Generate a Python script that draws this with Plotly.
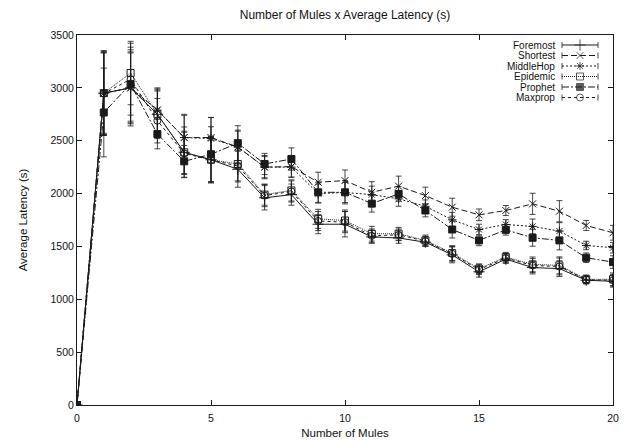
import plotly.graph_objects as go

# ---------------- data ----------------
mules = list(range(21))

foremost = [0, 2950, 3000, 2750, 2390, 2320, 2230, 1960, 1990, 1710, 1710,
            1590, 1580, 1540, 1420, 1260, 1380, 1300, 1290, 1180, 1170]
foremost_err = [0, 400, 330, 230, 240, 220, 170, 115, 100, 90, 120,
                60, 50, 40, 75, 50, 40, 60, 75, 35, 55]

shortest = [0, 2950, 3000, 2790, 2530, 2530, 2440, 2250, 2255, 2107, 2123,
            2012, 2070, 1981, 1871, 1799, 1840, 1903, 1833, 1698, 1629]
shortest_err = [0, 390, 360, 210, 220, 190, 160, 110, 100, 95, 100,
                100, 95, 80, 85, 55, 47, 100, 100, 47, 70]

middlehop = [0, 2950, 3000, 2790, 2530, 2520, 2440, 2250, 2250, 2000, 2010,
             1990, 1950, 1880, 1752, 1660, 1708, 1689, 1645, 1509, 1488]
middlehop_err = [0, 380, 340, 200, 210, 200, 150, 100, 95, 90, 95,
                 80, 70, 60, 70, 50, 45, 70, 80, 40, 50]

epidemic = [0, 2950, 3140, 2750, 2390, 2320, 2280, 1990, 2030, 1761, 1745,
            1620, 1620, 1557, 1437, 1290, 1399, 1330, 1321, 1189, 1189]
epidemic_err = [0, 400, 300, 220, 200, 210, 160, 100, 100, 90, 100,
                70, 60, 50, 70, 45, 45, 70, 80, 40, 60]

prophet = [0, 2767, 3035, 2563, 2305, 2372, 2477, 2280, 2327, 2012, 2012,
           1905, 1997, 1840, 1660, 1557, 1657, 1582, 1557, 1393, 1352]
prophet_err = [0, 420, 350, 140, 150, 260, 165, 100, 105, 95, 110,
               80, 70, 60, 80, 50, 50, 80, 90, 45, 60]

maxprop = [0, 2946, 3082, 2689, 2380, 2318, 2260, 1981, 2020, 1740, 1730,
           1600, 1610, 1550, 1430, 1280, 1390, 1320, 1310, 1185, 1180]
maxprop_err = [0, 390, 340, 210, 200, 210, 150, 105, 100, 90, 100,
               65, 55, 45, 70, 45, 45, 65, 80, 35, 55]

series_names = ["Foremost", "Shortest", "MiddleHop", "Epidemic", "Prophet", "Maxprop"]
series_vals = [foremost, shortest, middlehop, epidemic, prophet, maxprop]
series_errs = [foremost_err, shortest_err, middlehop_err, epidemic_err, prophet_err, maxprop_err]

x_ticks = [0, 5, 10, 15, 20]
y_ticks = [0, 500, 1000, 1500, 2000, 2500, 3000, 3500]

# ---------------- styles ----------------
dashes = ["solid", "6px,3px", "2px,2px", "1px,1px", "7px,2px,2px,2px", "3px,3px"]
symbols = ["cross-thin-open", "x-thin-open", "asterisk-open", "square-open", "square", "circle-open"]
sizes = [8, 7, 7, 7, 7, 7]
INK = "#1a1a1a"
FONT = "Liberation Sans, Arial, sans-serif"

OFF = 8
W, H = 636 - OFF, 441 - OFF
# plot area in window pixels: x 77..613, y 35..405
ML, MR = 77 - OFF, 636 - 613
MT, MB = 35 - OFF, 441 - 405
plot_w = W - ML - MR
plot_h = H - MT - MB

fig = go.Figure()

for name, vals, errs, dash, sym, sz in zip(series_names, series_vals, series_errs,
                                          dashes, symbols, sizes):
    fig.add_trace(go.Scatter(
        x=mules, y=vals, name=name, mode="lines+markers",
        line=dict(color=INK, width=1, dash=dash),
        marker=dict(symbol=sym, size=sz, color=INK,
                    line=dict(color=INK, width=1)),
        error_y=dict(type="data", array=errs, visible=True,
                     color=INK, thickness=0.8, width=3),
        showlegend=False,
    ))

# ---------------- gnuplot-like key (text left, sample right) ----------------
row0 = 1 - 10 / plot_h
row_step = 10.5 / plot_h
sx0 = (562 - 77) / plot_w
sx1 = (598 - 77) / plot_w
sxm = (sx0 + sx1) / 2
tx = (557 - 77) / plot_w
cap = 3.0 / plot_h

for i, (name, dash, sym, sz) in enumerate(zip(series_names, dashes, symbols, sizes)):
    ry = row0 - i * row_step
    fig.add_trace(go.Scatter(
        x=[sx0, sxm, sx1], y=[ry, ry, ry], mode="lines+markers",
        xaxis="x2", yaxis="y2", showlegend=False, hoverinfo="skip",
        line=dict(color=INK, width=1, dash=dash),
        marker=dict(symbol=sym, size=[0, sz, 0], color=INK,
                    line=dict(color=INK, width=1)),
        error_y=dict(type="data", array=[cap, 0, cap], visible=True,
                     color=INK, thickness=0.8, width=0),
    ))
    fig.add_annotation(x=tx, y=ry, xref="x2", yref="y2", text=name,
                       showarrow=False, xanchor="right", yanchor="middle",
                       font=dict(family=FONT, size=10, color="#111"))

axis_common = dict(showgrid=False, zeroline=False, showline=True, linecolor=INK,
                   linewidth=1, mirror="allticks", ticks="inside", ticklen=5,
                   tickwidth=1, tickcolor=INK, automargin=False,
                   tickfont=dict(family=FONT, size=10.5, color="#111"))

fig.update_layout(
    width=W, height=H,
    margin=dict(l=ML, r=MR, t=MT, b=MB, pad=0, autoexpand=False),
    paper_bgcolor="white", plot_bgcolor="white",
    title=dict(text="Number of Mules x Average Latency (s)", x=0.5, xref="paper",
               y=1 - (15 - OFF) / H, yanchor="middle",
               font=dict(family=FONT, size=12, color="#111")),
    xaxis=dict(range=[0, 20], tickvals=x_ticks, ticklabelstandoff=3,
               title=dict(text="Number of Mules", standoff=6,
                          font=dict(family=FONT, size=11.5, color="#111")),
               **axis_common),
    yaxis=dict(range=[0, 3500], tickvals=y_ticks,
               title=dict(text="Average Latency (s)", standoff=20,
                          font=dict(family=FONT, size=11.5, color="#111")),
               **axis_common),
    xaxis2=dict(range=[0, 1], overlaying="x", visible=False, fixedrange=True),
    yaxis2=dict(range=[0, 1], overlaying="y", visible=False, fixedrange=True),
    showlegend=False,
)

fig.write_html("out.html")
